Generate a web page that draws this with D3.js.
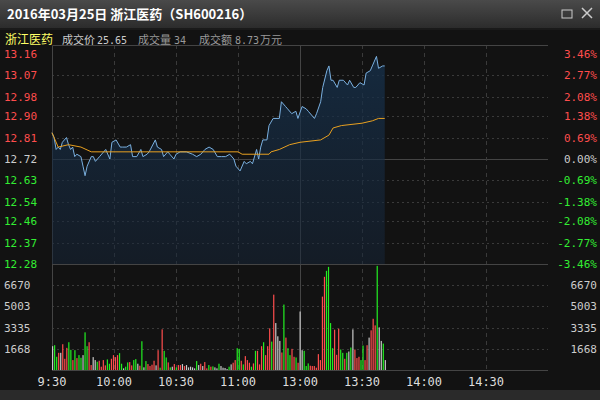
<!DOCTYPE html>
<html><head><meta charset="utf-8">
<script src="https://cdn.jsdelivr.net/npm/d3@7"></script>
<style>body{margin:0;background:#121212}svg{display:block}</style>
</head><body>
<svg id="chart" width="600" height="400"></svg>
<script>
// price readings: minute since 9:30 (trading minutes), price
const priceMin = [0,1,2,3,4,5,7,8,9,10,11,12,14,15,16,17,19,20,21,23,25,26,28,29,31,33,34,36,38,39,41,43,44,46,47,50,51,53,54,56,57,59,60,62,65,68,70,72,74,76,78,80,82,84,86,88,89,91,93,94,96,97,99,100,101,102,104,105,107,110,111,113,114,116,118,119,121,123,124,127,128,130,131,133,134,135,136,138,139,141,143,144,146,147,149,151,152,154,155,157,158,160,161];
const priceVal = [12.83,12.81,12.76,12.77,12.76,12.79,12.81,12.78,12.76,12.77,12.73,12.74,12.73,12.69,12.65,12.69,12.73,12.73,12.71,12.73,12.75,12.76,12.72,12.79,12.80,12.77,12.77,12.77,12.78,12.73,12.73,12.76,12.73,12.74,12.75,12.80,12.77,12.76,12.73,12.75,12.74,12.72,12.74,12.75,12.75,12.74,12.73,12.74,12.76,12.77,12.76,12.73,12.73,12.73,12.74,12.72,12.69,12.67,12.71,12.70,12.71,12.70,12.76,12.72,12.77,12.80,12.80,12.86,12.89,12.89,12.96,12.94,12.93,12.91,12.92,12.89,12.94,12.93,12.92,12.89,12.91,12.96,13.02,13.09,13.11,13.05,13.05,13.02,13.05,13.05,13.03,13.05,13.02,13.02,13.04,13.03,13.08,13.09,13.11,13.15,13.10,13.11,13.11];
const avgMin = [0,3,8,14,19,30,60,90,92,105,106,110,115,120,130,134,136,140,150,155,158,161];
const avgVal = [12.83,12.77,12.78,12.77,12.75,12.75,12.75,12.75,12.74,12.74,12.75,12.76,12.78,12.79,12.80,12.82,12.85,12.86,12.87,12.88,12.89,12.89];
const volumes = [1872,1950,1040,1352,1352,2028,884,1742,2184,1586,780,1560,936,1170,962,1170,2964,1872,2184,390,1014,780,650,728,260,780,364,832,494,884,1170,1014,1170,1326,494,130,260,598,624,364,780,858,494,338,2262,208,702,468,312,416,728,364,1560,182,3198,1508,988,598,208,260,468,208,390,390,468,312,390,208,260,208,130,702,390,494,312,624,130,390,260,286,208,130,494,312,182,156,78,260,442,572,780,1716,1664,728,442,1092,780,572,260,520,1508,1508,442,1872,2184,1170,1872,3276,2236,5928,3692,2652,2288,1378,5148,2548,1716,1170,1664,1040,988,572,4602,1560,1508,312,520,338,312,312,182,1248,780,5772,7332,7800,8112,3692,1716,3172,1196,3250,1612,1352,884,1352,1456,1768,3198,1612,936,1040,780,1924,780,1950,2548,3120,4030,3510,8190,3354,2288,2080,780];
const volDir = "ngg rnrrrggrgrggnggrrnngrrrrggrrrrggnggrrggnrgngrrrrnrgrggrgnrgrrnrnnnnngnrnrrgrgnngnnnngnrrggrgrrrgrgrrrgrrrgrnnnrgrggrrgrnngggrrrrrrrrggggrrrggrgngnrrrggrrnrrrgnng".replace(/ /g,"");
const leftTicks = ["13.16","13.07","12.98","12.90","12.81","12.72","12.63","12.54","12.46","12.37","12.28"];
const rightTicks = ["3.46%","2.77%","2.08%","1.38%","0.69%","0.00%","-0.69%","-1.38%","-2.08%","-2.77%","-3.46%"];
const volTicks = [6670,5003,3335,1668];
const timeLabels = ["9:30","10:00","10:30","11:00","13:00","13:30","14:00","14:30"];
const prevClose = 12.72;

const svg = d3.select('#chart');
const L = 52, R = 548;
const x = d3.scaleLinear().domain([0,240]).range([L,R]);
const y = d3.scaleLinear().domain([12.28,13.16]).range([264,54]);
const yv = d3.scaleLinear().domain([0,8338]).range([370,264]);
const font = "'DejaVu Sans Mono', monospace";
const cjk = "'Noto Sans CJK SC', sans-serif";

// title bar
const g0 = svg.append('defs').append('linearGradient').attr('id','tb').attr('x2',0).attr('y2',1);
g0.append('stop').attr('offset',0).attr('stop-color','#4a4a4a');
g0.append('stop').attr('offset',1).attr('stop-color','#2c2c2c');
svg.append('rect').attr('width',600).attr('height',28).attr('fill','url(#tb)');
svg.append('rect').attr('y',28).attr('width',600).attr('height',2).attr('fill','#1a1a1a');
svg.append('text').attr('x',7).attr('y',19).attr('fill','#fff').attr('font-weight','bold')
  .attr('font-size',13).attr('font-family',cjk).text('2016年03月25日 浙江医药（SH600216）');
svg.append('rect').attr('x',562).attr('y',10).attr('width',10).attr('height',8).attr('fill','none').attr('stroke','#ccc');
svg.append('path').attr('d','M582,8L592,18M592,8L582,18').attr('stroke','#ccc').attr('stroke-width',1.5);

// info row
const infoItems = [
  {x:5, t:'浙江医药', c:'#ffff66', f:cjk, s:12},
  {x:62, t:'成交价', c:'#ccc', f:cjk, s:11},
  {x:97, t:'25.65', c:'#ccc', f:font, s:10},
  {x:138, t:'成交量', c:'#999', f:cjk, s:11},
  {x:174, t:'34', c:'#999', f:font, s:10},
  {x:199, t:'成交额', c:'#999', f:cjk, s:11},
  {x:235, t:'8.73', c:'#999', f:font, s:10},
  {x:260, t:'万元', c:'#999', f:cjk, s:11}
];
svg.append('g').selectAll('text').data(infoItems).join('text')
  .attr('x',d=>d.x).attr('y',44).attr('fill',d=>d.c).attr('font-family',d=>d.f).attr('font-size',d=>d.s).text(d=>d.t);

// grid
const grid = svg.append('g');
leftTicks.slice(1,10).forEach(t => {
  const yy = Math.round(y(+t))+0.5;
  grid.append('line').attr('x1',L).attr('x2',R).attr('y1',yy).attr('y2',yy)
    .attr('stroke', +t===prevClose ? '#444' : '#3a3a3a').attr('stroke-dasharray', +t===prevClose ? null : '2,3');
});
volTicks.forEach(t => {
  const yy = Math.round(yv(t))+0.5;
  grid.append('line').attr('x1',L).attr('x2',R).attr('y1',yy).attr('y2',yy).attr('stroke','#3a3a3a').attr('stroke-dasharray','2,3');
});
[30,60,90,150,180,210].forEach(m => {
  grid.append('line').attr('x1',Math.round(x(m))+0.5).attr('x2',Math.round(x(m))+0.5).attr('y1',45).attr('y2',370)
    .attr('stroke','#3a3a3a').attr('stroke-dasharray','4,4');
});
grid.append('line').attr('x1',x(120)+0.5).attr('x2',x(120)+0.5).attr('y1',45).attr('y2',370).attr('stroke','#444');
grid.append('path').attr('d',`M${L+0.5},370V45.5H${R}M${L},264.5H${R}M${L},370.5H${R}`).attr('fill','none').attr('stroke','#444');

// price area + line
const pts = priceMin.map((m,i)=>[m,priceVal[i]]);
const ag = svg.select('defs').append('linearGradient').attr('id','pa').attr('x2',0).attr('y2',1);
ag.append('stop').attr('offset',0).attr('stop-color','#16304a').attr('stop-opacity',0.8);
ag.append('stop').attr('offset',1).attr('stop-color','#16263a').attr('stop-opacity',0.5);
svg.append('path').datum(pts).attr('fill','url(#pa)')
  .attr('d', d3.area().x(d=>x(d[0])).y0(264).y1(d=>y(d[1])));
svg.append('path').datum(pts).attr('fill','none').attr('stroke','#7ab0e0').attr('stroke-width',1)
  .attr('d', d3.line().x(d=>x(d[0])).y(d=>y(d[1])));
svg.append('path').datum(avgMin.map((m,i)=>[m,avgVal[i]])).attr('fill','none').attr('stroke','#e8a020').attr('stroke-width',1)
  .attr('d', d3.line().x(d=>x(d[0])).y(d=>y(d[1])));

// volume bars
const n = volumes.length;
const colors = {r:'#ff4d4d', g:'#22ee22', n:'#c8c8c8'};
svg.append('g').selectAll('rect').data(volumes).join('rect')
  .attr('x',(d,i)=>x(i*161/(n-1))).attr('width',1.2)
  .attr('y',d=>yv(d)).attr('height',d=>370-yv(d))
  .attr('fill',(d,i)=>colors[volDir[i]||'n']);

// axes labels
const lab = svg.append('g').attr('font-family',font).attr('font-size',11);
leftTicks.forEach(t => {
  const v = +t;
  lab.append('text').attr('x',4).attr('y',y(v)+4).attr('fill', v>prevClose?'#ff4d4d':v<prevClose?'#33ee33':'#ccc').text(t);
});
rightTicks.forEach((t,i) => {
  const v = +leftTicks[i];
  lab.append('text').attr('x',597).attr('text-anchor','end').attr('y',y(v)+4)
    .attr('fill', v>prevClose?'#ff4d4d':v<prevClose?'#33ee33':'#ccc').text(t);
});
volTicks.forEach(t => {
  lab.append('text').attr('x',4).attr('y',yv(t)+4).attr('fill','#ccc').text(t);
  lab.append('text').attr('x',597).attr('text-anchor','end').attr('y',yv(t)+4).attr('fill','#ccc').text(t);
});
timeLabels.forEach((t,i) => {
  lab.append('text').attr('x',x(i*30)).attr('y',386).attr('text-anchor','middle').attr('fill','#ddd').attr('font-size',12).text(t);
});
svg.append('rect').attr('y',390).attr('width',600).attr('height',10).attr('fill','#2a2a2a');
</script>
</body></html>
